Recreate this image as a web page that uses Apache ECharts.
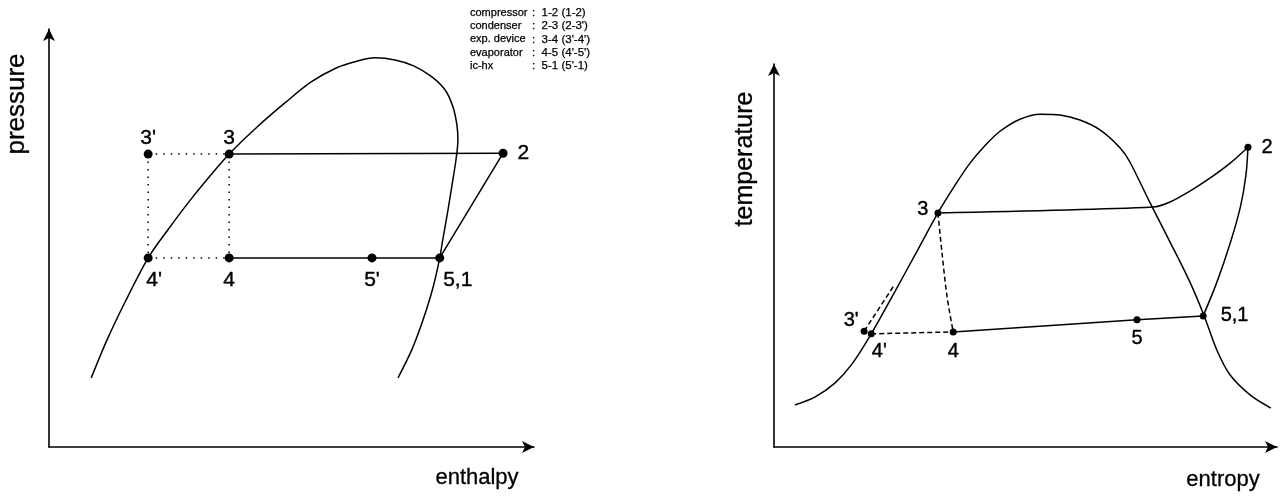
<!DOCTYPE html>
<html>
<head>
<meta charset="utf-8">
<script src="https://cdn.jsdelivr.net/npm/echarts@6/dist/echarts.min.js"></script>
<style>
  html, body { margin: 0; padding: 0; background: #fff; }
  #chart { width: 1286px; height: 498px; }
</style>
</head>
<body>
<div id="chart"></div>
<script>
// ---- Pressure–enthalpy diagram (arbitrary units) ----
const phDome = [[8.6,16.3],[11.8,25.2],[15.5,34.2],[20.2,44.6],[24.2,51.2],[29.3,59.0],[36.7,69.1],
  [42.4,75.5],[48.3,81.4],[53.4,86.1],[58.5,89.4],[62.7,91.0],[66.4,91.8],[70.5,91.3],[74.3,89.9],
  [78.0,87.3],[80.7,84.2],[82.3,80.2],[83.1,75.9],[83.3,72.4],[82.9,67.7],[82.1,61.8],[81.1,54.7],
  [80.2,48.8],[79.6,44.6],[78.2,37.5],[76.2,30.0],[73.9,22.9],[71.1,16.3]];
const phNames = ["3'", "3", "2", "4'", "4", "5'", "5,1"];
const phValues = [[20.2,69.1],[36.7,69.1],[92.5,69.3],[20.2,44.6],[36.7,44.6],[65.8,44.6],[79.6,44.6]];
const phSolid = [["3","2"],["2","5,1"],["4","5,1"]];
const phDotted = [["3'","3"],["3'","4'"],["4'","4"],["3","4"]];

// ---- Temperature–entropy diagram (arbitrary units) ----
const tsDome = [[4.1,10.8],[8.1,12.9],[12.0,16.5],[15.3,21.3],[19.1,29.1],[23.8,40.1],[27.7,49.4],
  [32.2,60.2],[35.6,67.4],[38.5,73.0],[41.5,77.6],[44.4,81.2],[48.3,84.3],[52.3,85.6],[56.2,85.4],
  [60.1,84.1],[64.1,81.5],[68.0,76.9],[69.9,73.3],[73.9,62.7],[77.8,52.7],[81.7,42.4],[84.5,33.7],
  [87.0,24.9],[89.6,18.5],[93.5,13.4],[97.6,10.0]];
const tsNames = ["3", "2", "3'", "4'", "4", "5", "5,1"];
const tsValues = [[32.2,60.2],[93.1,77.1],[17.7,29.8],[19.1,29.1],[35.2,29.6],[71.3,32.7],[84.3,33.7]];
const tsCondenser = [[32.2,60.2],[74.5,61.7],[77.8,63.0],[81.7,65.8],[85.7,69.2],[89.6,73.0],[93.1,77.1]];
const tsCompressor = [[84.3,33.7],[87.0,42.4],[89.6,52.4],[91.6,61.7],[92.7,69.9],[93.1,77.1]];
const tsExpansion = [[32.2,60.2],[33.0,49.9],[34.0,38.6],[35.2,29.6]];
const tsSubcool = [[17.7,29.8],[23.6,41.6]];
const tsFlash = [[19.1,29.1],[35.2,29.6]];
const tsEvaporator = [[35.2,29.6],[71.3,32.7],[84.3,33.7]];

// ---- Process table ----
const legendNames = ["compressor", "condenser", "exp. device", "evaporator", "ic-hx"];
const legendSteps = [":  1-2 (1-2)", ":  2-3 (2-3')", ":  3-4 (3'-4')", ":  4-5 (4'-5')", ":  5-1 (5'-1)"];

const INK = '#000';
const FONT = '"Liberation Sans", Arial, Helvetica, sans-serif';

const chart = echarts.init(document.getElementById('chart'), null, { renderer: 'canvas' });

function axis(gridIndex, max) {
  return {
    type: 'value', gridIndex, min: 0, max,
    axisLine: { show: true, onZero: false, symbol: ['none', 'arrow'], symbolSize: [9, 12],
      lineStyle: { color: INK, width: 1.6 } },
    axisTick: { show: false }, axisLabel: { show: false }, splitLine: { show: false }
  };
}

function path(data, gi, type, smooth) {
  return {
    type: 'line', xAxisIndex: gi, yAxisIndex: gi, data, showSymbol: false, silent: true,
    smooth: smooth || false, z: 2,
    lineStyle: { color: INK, width: 1.5, type: type || 'solid' }
  };
}

function lookup(names, values) {
  const m = {};
  names.forEach((n, i) => { m[n] = values[i]; });
  return m;
}

// where each state label sits relative to its dot
const phLabelPos = {
  "3'": { position: 'top', distance: 1 },
  "3": { position: 'top', distance: 1 },
  "2": { position: 'right', distance: 10 },
  "4'": { position: 'bottom', distance: 7, offset: [6, 0] },
  "4": { position: 'bottom', distance: 7 },
  "5'": { position: 'bottom', distance: 7 },
  "5,1": { position: 'bottom', distance: 7, offset: [18, 0] }
};
const tsLabelPos = {
  "3": { position: 'left', distance: 6, offset: [0, -3] },
  "2": { position: 'right', distance: 10 },
  "3'": { position: 'left', distance: 2, offset: [0, -11] },
  "4'": { position: 'bottom', distance: 4, offset: [8, 0] },
  "4": { position: 'bottom', distance: 6 },
  "5": { position: 'bottom', distance: 5 },
  "5,1": { position: 'right', distance: 14 }
};

function points(names, values, gi, size, fontSize, placement) {
  return {
    type: 'scatter', xAxisIndex: gi, yAxisIndex: gi, symbolSize: size, z: 5, silent: true,
    itemStyle: { color: INK, opacity: 1 },
    data: names.map((n, i) => ({
      name: n, value: values[i],
      label: Object.assign({ show: true, formatter: n, color: INK, fontSize, fontFamily: FONT,
        textBorderColor: INK, textBorderWidth: 0.4 }, placement[n])
    }))
  };
}

const ph = lookup(phNames, phValues);
const series = [
  path(phDome, 0, 'solid', 0.3),
  ...phSolid.map(([a, b]) => path([ph[a], ph[b]], 0)),
  ...phDotted.map(([a, b]) => path([ph[a], ph[b]], 0, [1.5, 6])),
  points(phNames, phValues, 0, 9, 21, phLabelPos),

  path(tsDome, 1, 'solid', 0.3),
  path(tsCondenser, 1, 'solid', 0.3),
  path(tsCompressor, 1, 'solid', 0.3),
  path(tsExpansion, 1, [5, 3], 0.3),
  path(tsSubcool, 1, [5, 3]),
  path(tsFlash, 1, [5, 3]),
  path(tsEvaporator, 1),
  points(tsNames, tsValues, 1, 7, 20, tsLabelPos)
];

const textStyle = (extra) => Object.assign({ fill: INK, fontFamily: FONT, stroke: INK, lineWidth: 0.3 }, extra);

const graphic = [
  { type: 'text', x: 17, y: 104, rotation: Math.PI / 2,
    style: textStyle({ text: 'pressure', fontSize: 26, align: 'center', verticalAlign: 'middle' }) },
  { type: 'text', x: 477, y: 478,
    style: textStyle({ text: 'enthalpy', fontSize: 22, align: 'center', verticalAlign: 'middle' }) },
  { type: 'text', x: 745, y: 159, rotation: Math.PI / 2,
    style: textStyle({ text: 'temperature', fontSize: 25, align: 'center', verticalAlign: 'middle' }) },
  { type: 'text', x: 1223, y: 480,
    style: textStyle({ text: 'entropy', fontSize: 22, align: 'center', verticalAlign: 'middle' }) },
  ...legendNames.map((n, i) => ({ type: 'text', x: 470, y: 13 + i * 13.2,
    style: textStyle({ text: n, fontSize: 11, verticalAlign: 'middle', lineWidth: 0.25 }) })),
  ...legendSteps.map((s, i) => ({ type: 'text', x: 532, y: 13 + i * 13.2,
    style: textStyle({ text: s, fontSize: 11.5, verticalAlign: 'middle', lineWidth: 0.25 }) }))
];

chart.setOption({
  backgroundColor: '#fff',
  animation: false,
  grid: [
    { left: 49, top: 29, width: 485, height: 418 },
    { left: 774, top: 64, width: 503, height: 383 }
  ],
  xAxis: [axis(0, 98.8), axis(1, 98.8)],
  yAxis: [axis(0, 98.6), axis(1, 98.5)],
  series,
  graphic
});
</script>
</body>
</html>
